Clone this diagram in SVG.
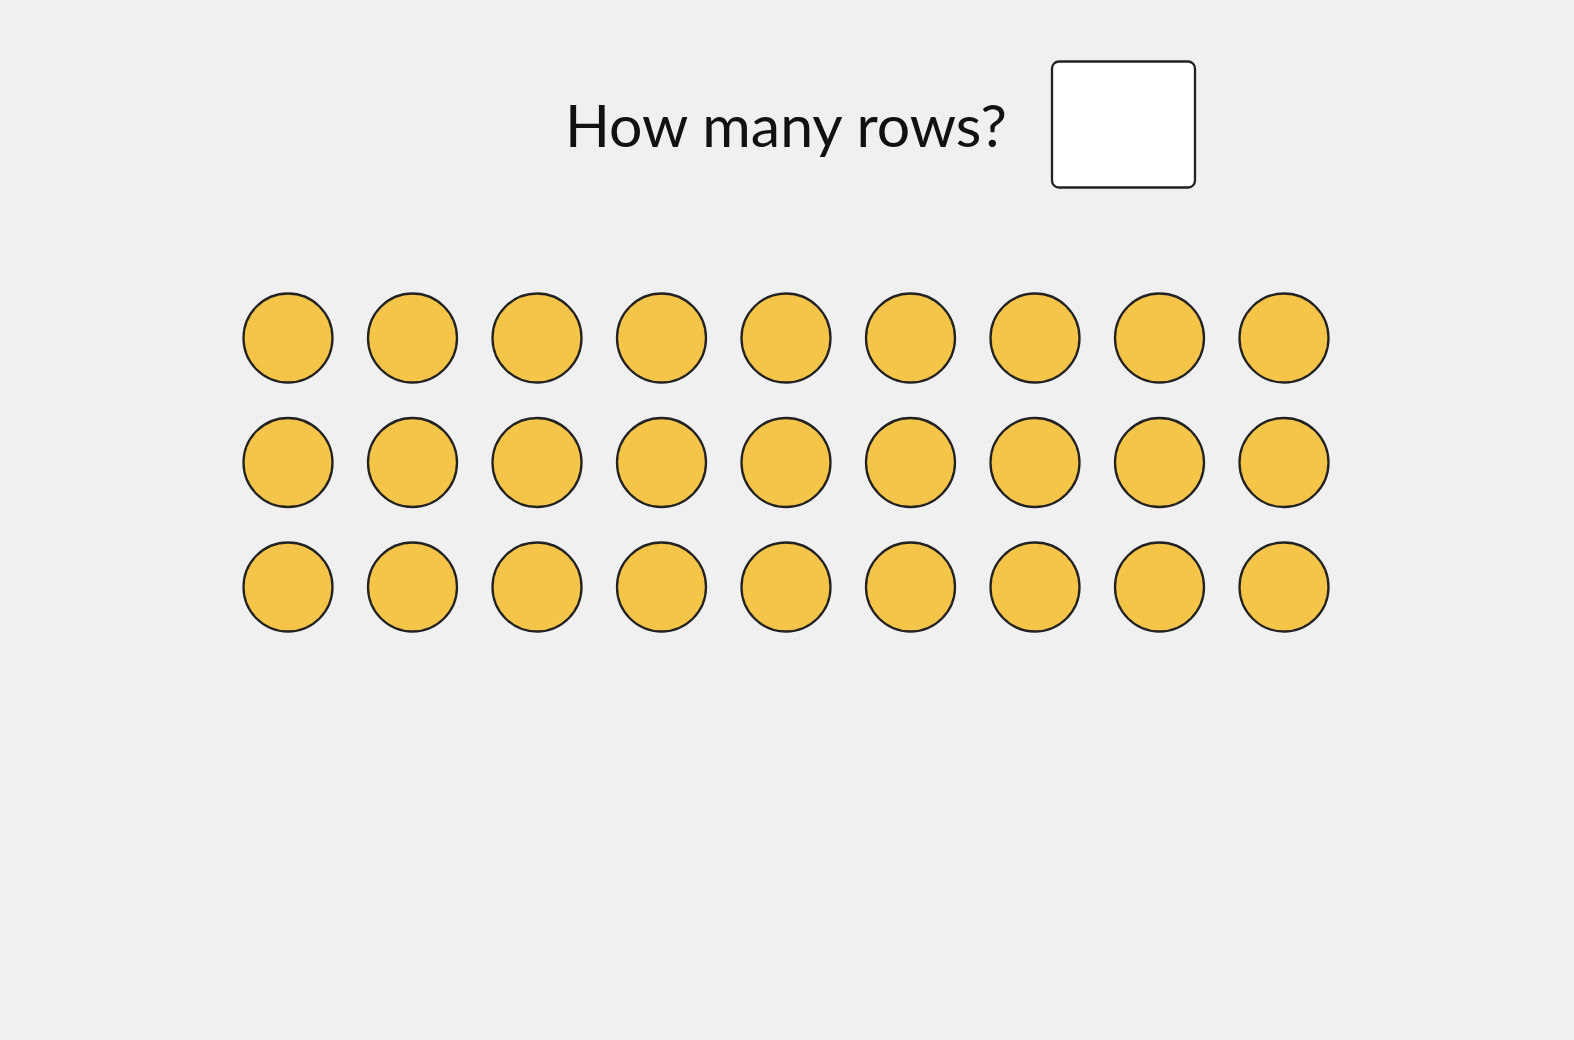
<svg xmlns="http://www.w3.org/2000/svg" width="1574" height="1040" viewBox="0 0 1574 1040">
<style>
.c{fill:#F5C54A;stroke:#222;stroke-width:2.3}
.t{font-family:Lato,"Open Sans",sans-serif;font-size:59px;fill:#111}
</style>
<defs><circle id="dot" r="44.5" class="c"/></defs>
<rect width="1574" height="1040" fill="#F0F0F0"/>
<g id="question">
<text class="t" x="565" y="147" textLength="442" lengthAdjust="spacingAndGlyphs">How many rows?</text>
</g>
<g id="answer-box">
<rect x="1052" y="61.5" width="143" height="126" rx="7" fill="#fff" stroke="#222" stroke-width="2.3"/>
</g>
<g id="row1">
<use href="#dot" x="288" y="338"/><use href="#dot" x="412.5" y="338"/><use href="#dot" x="537" y="338"/><use href="#dot" x="661.5" y="338"/><use href="#dot" x="786" y="338"/><use href="#dot" x="910.5" y="338"/><use href="#dot" x="1035" y="338"/><use href="#dot" x="1159.5" y="338"/><use href="#dot" x="1284" y="338"/>
</g>
<g id="row2">
<use href="#dot" x="288" y="462.5"/><use href="#dot" x="412.5" y="462.5"/><use href="#dot" x="537" y="462.5"/><use href="#dot" x="661.5" y="462.5"/><use href="#dot" x="786" y="462.5"/><use href="#dot" x="910.5" y="462.5"/><use href="#dot" x="1035" y="462.5"/><use href="#dot" x="1159.5" y="462.5"/><use href="#dot" x="1284" y="462.5"/>
</g>
<g id="row3">
<use href="#dot" x="288" y="587"/><use href="#dot" x="412.5" y="587"/><use href="#dot" x="537" y="587"/><use href="#dot" x="661.5" y="587"/><use href="#dot" x="786" y="587"/><use href="#dot" x="910.5" y="587"/><use href="#dot" x="1035" y="587"/><use href="#dot" x="1159.5" y="587"/><use href="#dot" x="1284" y="587"/>
</g>
<g id="connectors"/>
</svg>
